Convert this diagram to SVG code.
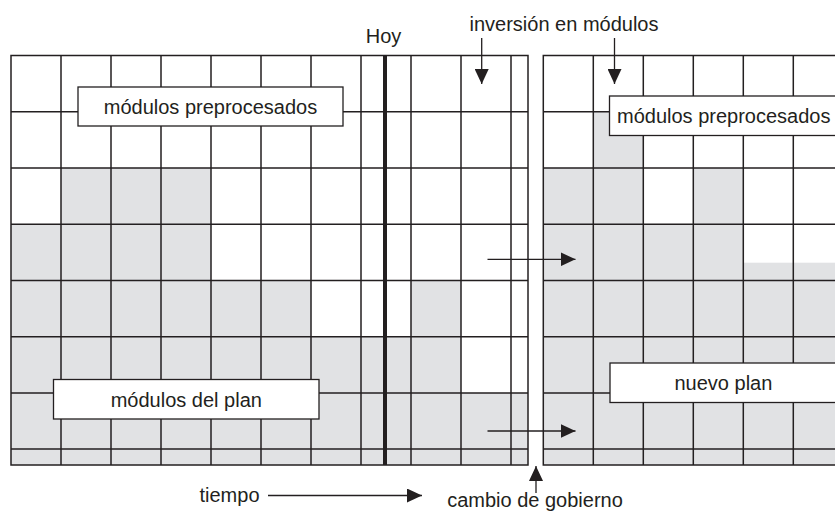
<svg xmlns="http://www.w3.org/2000/svg" width="835" height="512" viewBox="0 0 835 512">
<defs>
<style>
.g{fill:#e1e2e4;stroke:none}
.ln{stroke:#231f20;stroke-width:1.5;fill:none}
.thick{stroke:#231f20;stroke-width:4;fill:none}
.box{fill:#ffffff;stroke:#231f20;stroke-width:1.3}
.t{font-family:"Liberation Sans",Arial,sans-serif;font-size:20px;fill:#231f20}
.ar{stroke:#231f20;stroke-width:1.3;fill:none;marker-end:url(#ah)}
</style>
<marker id="ah" markerUnits="userSpaceOnUse" markerWidth="15" markerHeight="14" viewBox="0 0 15 14" refX="15" refY="7" orient="auto">
<path d="M0,0 L15,7 L0,14 Z" fill="#231f20"/>
</marker>
</defs>
<rect width="835" height="512" fill="#ffffff"/>
<g id="left-panel">
<g id="left-shading">
<rect class="g" x="61" y="168" width="150" height="56.2"/>
<rect class="g" x="11" y="224.2" width="200" height="56.3"/>
<rect class="g" x="11" y="280.5" width="300" height="56.2"/>
<rect class="g" x="411" y="280.5" width="50" height="56.2"/>
<rect class="g" x="11" y="336.7" width="450" height="56.3"/>
<rect class="g" x="11" y="393" width="517" height="72"/>
</g>
<g id="left-grid">
<path class="ln" d="M11,111.8H528M11,168H528M11,224.2H528M11,280.5H528M11,336.7H528M11,393H528M11,449H528"/>
<path class="ln" d="M61,55.5V465M111,55.5V465M161,55.5V465M211,55.5V465M261,55.5V465M311,55.5V465M361,55.5V465M411,55.5V465M461,55.5V465M511,55.5V465"/>
<rect class="ln" x="11" y="55.5" width="517" height="409.5"/>
<path class="thick" d="M385,55.5V465"/>
</g>
</g>
<g id="right-panel">
<g id="right-shading">
<rect class="g" x="593.3" y="111.8" width="50" height="56.2"/>
<rect class="g" x="543.3" y="168" width="100" height="56.2"/>
<rect class="g" x="693.3" y="168" width="50" height="56.2"/>
<rect class="g" x="543.3" y="224.2" width="200" height="56.3"/>
<rect class="g" x="743.3" y="262.7" width="95" height="17.8"/>
<rect class="g" x="543.3" y="280.5" width="295" height="184.5"/>
</g>
<g id="right-grid">
<path class="ln" d="M543.3,111.8H840M543.3,168H840M543.3,224.2H840M543.3,280.5H840M543.3,336.7H840M543.3,393H840M543.3,449H840"/>
<path class="ln" d="M593.3,55.5V465M643.3,55.5V465M693.3,55.5V465M743.3,55.5V465M793.3,55.5V465"/>
<path class="ln" d="M840,55.5H543.3V465H840"/>
</g>
</g>
<g id="connectors">
<line class="ar" x1="481.7" y1="38" x2="481.7" y2="84"/>
<line class="ar" x1="614.5" y1="38" x2="614.5" y2="84"/>
<line class="ar" x1="487.5" y1="259.3" x2="575.5" y2="259.3"/>
<line class="ar" x1="487.5" y1="431" x2="575.5" y2="431"/>
<line class="ar" x1="268" y1="495.5" x2="422" y2="495.5"/>
<line class="ar" x1="536" y1="493" x2="536" y2="466"/>
</g>
<g id="node-preprocesados-left">
<rect class="box" x="78" y="87" width="265" height="39"/>
<text class="t" x="210.5" y="114" text-anchor="middle">módulos preprocesados</text>
</g>
<g id="node-plan">
<rect class="box" x="53.5" y="379.5" width="265.5" height="39.5"/>
<text class="t" x="186.3" y="406.5" text-anchor="middle">módulos del plan</text>
</g>
<g id="node-preprocesados-right">
<rect class="box" x="609.5" y="96" width="235" height="39.5"/>
<text class="t" x="617" y="123.3">módulos preprocesados</text>
</g>
<g id="node-nuevo-plan">
<rect class="box" x="610" y="363" width="235" height="39.5"/>
<text class="t" x="723.4" y="389.5" text-anchor="middle">nuevo plan</text>
</g>
<g id="label-hoy">
<text class="t" x="383.5" y="43.3" text-anchor="middle">Hoy</text>
</g>
<g id="label-inversion">
<text class="t" x="469.5" y="30.7">inversión en módulos</text>
</g>
<g id="label-tiempo">
<text class="t" x="199.5" y="501.5">tiempo</text>
</g>
<g id="label-cambio">
<text class="t" x="535" y="506.5" text-anchor="middle">cambio de gobierno</text>
</g>
</svg>
